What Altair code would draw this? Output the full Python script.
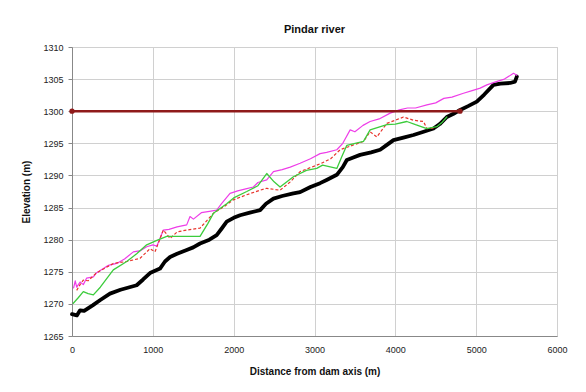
import altair as alt
import pandas as pd

# Thalweg / bed profile (thick black)
black_x = [0, 60, 100, 150, 260, 350, 470, 600, 800, 880, 965, 1089, 1150, 1213, 1300, 1419, 1500, 1584, 1700, 1790, 1850, 1914, 2000, 2079, 2200, 2327, 2400, 2492, 2600, 2739, 2822, 2950, 3069, 3150, 3276, 3350, 3400, 3480, 3564, 3700, 3812, 3900, 3977, 4100, 4224, 4350, 4472, 4550, 4637, 4720, 4802, 4900, 5008, 5100, 5214, 5300, 5421, 5480, 5503]
black_y = [1268.4, 1268.2, 1269.0, 1268.9, 1269.8, 1270.6, 1271.6, 1272.2, 1272.9, 1273.8, 1274.8, 1275.5, 1276.6, 1277.3, 1277.8, 1278.4, 1278.8, 1279.4, 1280.0, 1280.7, 1281.7, 1282.8, 1283.4, 1283.8, 1284.2, 1284.6, 1285.6, 1286.4, 1286.8, 1287.2, 1287.4, 1288.2, 1288.8, 1289.3, 1290.1, 1291.3, 1292.4, 1292.8, 1293.2, 1293.6, 1294.0, 1294.8, 1295.5, 1295.9, 1296.3, 1296.8, 1297.3, 1298.0, 1299.1, 1299.6, 1300.2, 1300.8, 1301.5, 1302.6, 1304.1, 1304.3, 1304.4, 1304.6, 1305.4]

# Magenta profile
mag_x = [20, 40, 58, 100, 140, 180, 264, 300, 388, 450, 553, 650, 759, 850, 924, 1000, 1050, 1130, 1200, 1300, 1419, 1460, 1502, 1600, 1700, 1790, 1850, 1955, 2050, 2150, 2244, 2300, 2409, 2492, 2600, 2700, 2822, 2950, 3069, 3150, 3276, 3350, 3441, 3500, 3600, 3688, 3800, 3936, 4050, 4150, 4250, 4390, 4500, 4600, 4700, 4843, 4950, 5050, 5132, 5250, 5350, 5462, 5503]
mag_y = [1272.5, 1273.6, 1272.6, 1273.4, 1273.0, 1274.0, 1274.2, 1274.8, 1275.5, 1276.0, 1276.3, 1277.0, 1278.1, 1278.3, 1278.9, 1279.2, 1279.0, 1281.5, 1281.6, 1282.0, 1282.3, 1283.6, 1283.2, 1284.2, 1284.4, 1284.6, 1285.6, 1287.2, 1287.6, 1287.9, 1288.2, 1288.9, 1289.3, 1290.6, 1290.9, 1291.3, 1291.9, 1292.6, 1293.4, 1293.6, 1294.0, 1295.0, 1297.1, 1296.8, 1297.8, 1298.4, 1298.8, 1299.7, 1300.2, 1300.5, 1300.5, 1301.0, 1301.3, 1302.0, 1302.2, 1302.8, 1303.2, 1303.6, 1304.1, 1304.6, 1305.0, 1305.9, 1305.6]

# Green profile
green_x = [16, 80, 140, 200, 264, 350, 511, 677, 800, 924, 1050, 1172, 1400, 1584, 1680, 1749, 1914, 2000, 2162, 2300, 2409, 2500, 2574, 2739, 2900, 3028, 3100, 3276, 3340, 3400, 3606, 3688, 3895, 4000, 4142, 4250, 4390, 4513, 4580, 4637]
green_y = [1270.1, 1271.0, 1271.9, 1271.6, 1271.4, 1272.6, 1275.3, 1276.6, 1277.8, 1279.2, 1279.9, 1280.5, 1280.5, 1280.5, 1282.5, 1284.1, 1285.6, 1286.5, 1287.5, 1288.4, 1290.3, 1289.0, 1288.2, 1289.8, 1290.8, 1291.1, 1291.6, 1291.1, 1293.0, 1294.7, 1295.3, 1297.1, 1297.9, 1298.0, 1298.4, 1297.9, 1297.3, 1297.6, 1298.3, 1299.1]

# Red dashed profile
red_x = [58, 100, 140, 200, 300, 400, 511, 677, 842, 965, 1027, 1130, 1213, 1300, 1419, 1584, 1749, 1900, 1996, 2162, 2327, 2409, 2574, 2700, 2822, 3069, 3200, 3317, 3450, 3606, 3688, 3771, 3895, 4000, 4101, 4224, 4348, 4390, 4500]
red_y = [1272.1, 1273.0, 1273.7, 1273.6, 1274.8, 1275.5, 1276.3, 1276.6, 1277.1, 1278.6, 1278.1, 1281.5, 1280.2, 1281.2, 1281.5, 1281.8, 1284.1, 1285.3, 1286.2, 1287.0, 1287.7, 1288.0, 1287.7, 1289.0, 1290.6, 1291.8, 1292.6, 1294.0, 1294.6, 1295.3, 1296.8, 1296.0, 1298.1, 1298.6, 1299.1, 1298.6, 1298.4, 1297.3, 1297.4]

# Reservoir level line
res_x = [0, 4800]
res_y = [1300, 1300]

FONT = "Liberation Sans"

x_scale = alt.Scale(domain=[0, 6000], nice=False)
y_scale = alt.Scale(domain=[1265, 1310], nice=False, zero=False)

x_axis = alt.Axis(values=[0, 1000, 2000, 3000, 4000, 5000, 6000], title="Distance from dam axis (m)",
                  format="d", tickSize=0, labelPadding=9, titlePadding=12, labelFlush=False)
y_axis = alt.Axis(values=list(range(1265, 1311, 5)), title="Elevation (m)", format="d",
                  tickSize=4, labelPadding=5, titlePadding=11, labelFlush=False)


def line(xs, ys, color, width, dash=None, points=False):
    df = pd.DataFrame({"d": xs, "e": ys, "o": list(range(len(xs)))})
    kw = dict(color=color, strokeWidth=width, strokeJoin="round", strokeCap="round")
    if dash:
        kw["strokeDash"] = dash
        kw["strokeCap"] = "butt"
    if points:
        kw["point"] = alt.OverlayMarkDef(filled=True, color=color, size=28)
    return alt.Chart(df).mark_line(**kw).encode(
        x=alt.X("d:Q", scale=x_scale, axis=x_axis),
        y=alt.Y("e:Q", scale=y_scale, axis=y_axis),
        order="o:Q",
    )


chart = alt.layer(
    line(black_x, black_y, "#000000", 3.8),
    line(mag_x, mag_y, "#ee3ee8", 1.2),
    line(red_x, red_y, "#e8342c", 1.2, dash=[3, 2]),
    line(green_x, green_y, "#3ccc3c", 1.3),
    line(res_x, res_y, "#8f1a1a", 2.6, points=True),
).properties(
    width=485,
    height=289,
    title=alt.TitleParams("Pindar river", fontSize=11, font=FONT, fontWeight="bold", color="#111", offset=8),
    autosize=alt.AutoSizeParams(type="none"),
    padding={"left": 64, "top": 39, "right": 21, "bottom": 48},
).configure_axis(
    labelFont=FONT, titleFont=FONT, labelFontSize=9, titleFontSize=10,
    labelColor="#222", titleColor="#111", titleFontWeight="bold",
    gridColor="#d0d0d0", gridWidth=1, domainColor="#888", tickColor="#888",
).configure_view(stroke="#d0d0d0")

chart.save("out.html", embed_options={"renderer": "svg", "actions": False})
